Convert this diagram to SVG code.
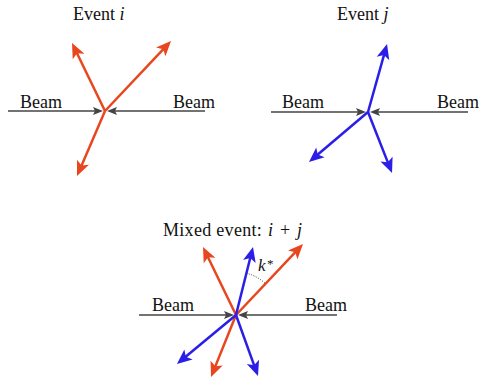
<svg xmlns="http://www.w3.org/2000/svg" width="480" height="379" viewBox="0 0 480 379">
<style>
text{font-family:"Liberation Serif","Times New Roman",serif;font-size:18px;fill:#111}
.it{font-style:italic}
.beam{stroke:#444;stroke-width:1.5;fill:none;marker-end:url(#mg)}
.red{stroke:#E8461E;stroke-width:2.5;fill:none;marker-end:url(#mr)}
.blue{stroke:#2B1EE6;stroke-width:2.5;fill:none;marker-end:url(#mb)}
</style>
<defs>
<marker id="mr" markerUnits="userSpaceOnUse" orient="auto" refX="-5" refY="0" markerWidth="20" markerHeight="20" overflow="visible">
<path d="M0,0 L-15,-6.5 L-11.5,0 L-15,6.5 Z" fill="#E8461E"/>
</marker>
<marker id="mb" markerUnits="userSpaceOnUse" orient="auto" refX="-5" refY="0" markerWidth="20" markerHeight="20" overflow="visible">
<path d="M0,0 L-15,-6.5 L-11.5,0 L-15,6.5 Z" fill="#2B1EE6"/>
</marker>
<marker id="mg" markerUnits="userSpaceOnUse" orient="auto" refX="-3" refY="0" markerWidth="20" markerHeight="20" overflow="visible">
<path d="M0,0 L-10,-4 L-8,0 L-10,4 Z" fill="#444"/>
</marker>
</defs>
<g id="event-i">
<text x="73" y="20">Event <tspan class="it">i</tspan></text>
<text x="20" y="108">Beam</text>
<text x="173" y="108">Beam</text>
</g>
<g id="event-j">
<text x="337" y="20">Event <tspan class="it">j</tspan></text>
<text x="282" y="108">Beam</text>
<text x="437" y="108">Beam</text>
</g>
<g id="mixed">
<text y="236"><tspan x="163" letter-spacing="0.3">Mixed event:</tspan><tspan class="it" x="268">i</tspan><tspan x="280">+</tspan><tspan class="it" x="297">j</tspan></text>
<text x="258" y="271" class="it" style="font-size:17px">k</text>
<text x="267" y="268" style="font-size:13px">*</text>
<text x="152" y="311">Beam</text>
<text x="305" y="311">Beam</text>
</g>
<g id="connectors">
<path class="beam" d="M8,111 L100,111"/>
<path class="beam" d="M205,111 L110,111"/>
<path class="red" d="M105,111 L74.2,47.5"/>
<path class="red" d="M105,111 L167.6,44.6"/>
<path class="red" d="M105,111 L79,171.4"/>
<path class="beam" d="M271,112 L363,112"/>
<path class="beam" d="M468,112 L373,112"/>
<path class="blue" d="M368,112 L385.7,48.8"/>
<path class="blue" d="M368,112 L312.8,158.8"/>
<path class="blue" d="M368,112 L390.2,168.4"/>
<path class="beam" d="M139,315 L231,315"/>
<path class="beam" d="M337,315 L241,315"/>
<path class="red" d="M236,315 L205.2,251.5"/>
<path class="red" d="M236,315 L299.6,247.6"/>
<path class="red" d="M236,315 L212.9,372.4"/>
<path class="blue" d="M236,315 L251.8,251.8"/>
<path class="blue" d="M236,315 L180.8,360.8"/>
<path class="blue" d="M236,315 L256.3,371.3"/>
<path d="M246.4,273.2 A43,43 0 0 1 265.5,283.7" fill="none" stroke="#333" stroke-width="1" stroke-dasharray="1,1.5"/>
</g>
</svg>
